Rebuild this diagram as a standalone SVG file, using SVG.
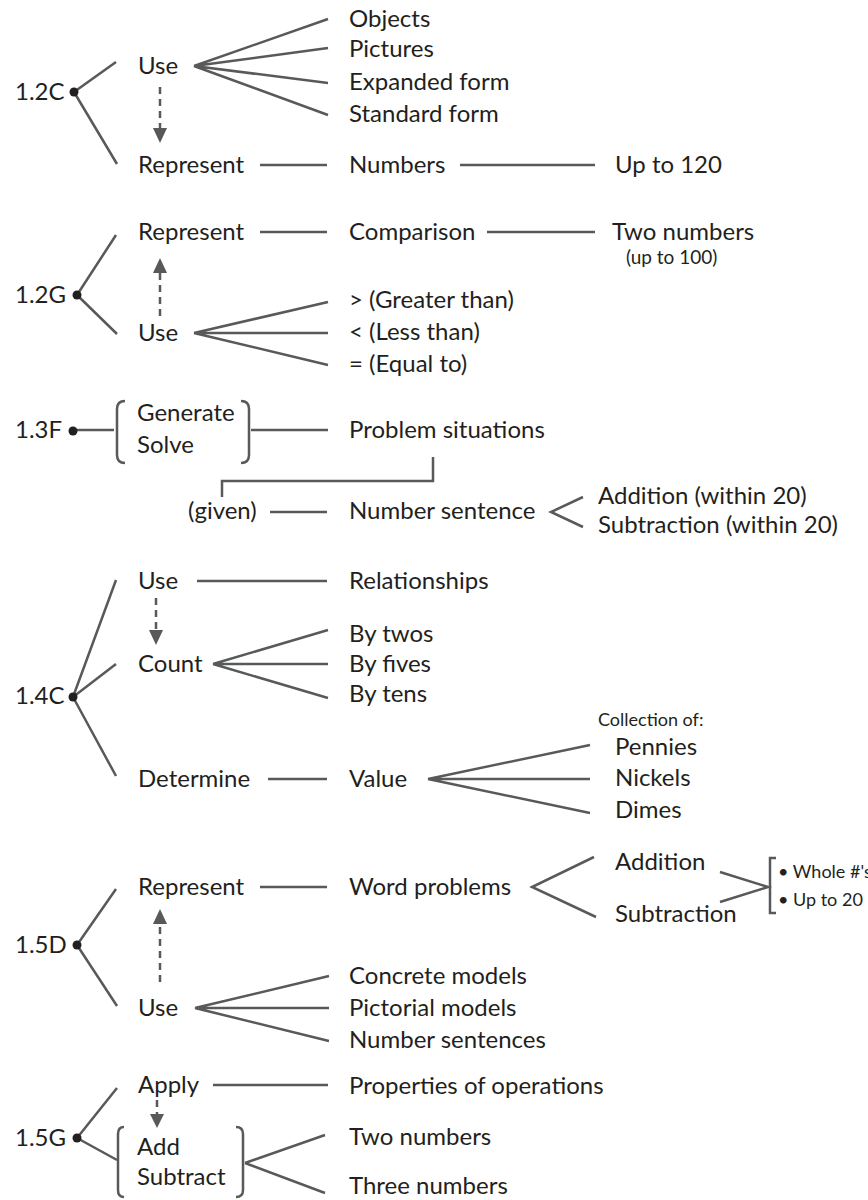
<svg xmlns="http://www.w3.org/2000/svg" width="868" height="1200" viewBox="0 0 868 1200">
<style>
text{font-family:Lato,"Open Sans","Liberation Sans",sans-serif;font-size:24px;fill:#231f20}
.s{font-size:19px}
.xs{font-size:18px}
.ln{stroke:#58595b;stroke-width:2.5;fill:none;stroke-linecap:butt}
.da{stroke:#58595b;stroke-width:2.5;fill:none;stroke-dasharray:7,5}
.dot{fill:#231f20}
.ah{fill:#58595b}
</style>
<g id="connectors">
<!-- 1.2C -->
<path class="ln" d="M74,92 L116,62 M74,92 L117,164"/>
<path class="ln" d="M194,66 L328,19 M194,66 L328,48 M194,66 L328,83 M194,66 L328,115"/>
<path class="ln" d="M260,165 L327,165 M460,165 L595,165"/>
<path class="da" d="M160,87 L160,128"/>
<path class="ah" d="M153,128 L167,128 L160,143 Z"/>
<!-- 1.2G -->
<path class="ln" d="M77,295 L116,235 M77,295 L117,334"/>
<path class="ln" d="M260,232 L327,232 M487,232 L595,232"/>
<path class="da" d="M160,316 L160,273"/>
<path class="ah" d="M153,273 L167,273 L160,258 Z"/>
<path class="ln" d="M194,333 L328,302 M194,333 L328,333 M194,333 L328,365"/>
<!-- 1.3F -->
<path class="ln" d="M74,430 L114,430 M251,430 L328,430"/>
<path class="ln" d="M125,401 Q117,401 117,409 L117,455 Q117,463 125,463"/>
<path class="ln" d="M241,401 Q249,401 249,409 L249,455 Q249,463 241,463"/>
<path class="ln" d="M433,457 L433,481 L222,481 L222,497"/>
<path class="ln" d="M270,512 L327,512"/>
<path class="ln" d="M583,497 L551,512 L583,527"/>
<!-- 1.4C -->
<path class="ln" d="M73,697 L116,580 M73,697 L116,664 M73,697 L116,776"/>
<path class="ln" d="M197,581 L327,581"/>
<path class="da" d="M156,598 L156,630"/>
<path class="ah" d="M149,630 L163,630 L156,645 Z"/>
<path class="ln" d="M213,664 L328,630 M213,664 L328,664 M213,664 L328,698"/>
<path class="ln" d="M268,779 L327,779"/>
<path class="ln" d="M428,779 L590,745 M428,779 L590,779 M428,779 L590,813"/>
<!-- 1.5D -->
<path class="ln" d="M77,945 L116,889 M77,945 L117,1006"/>
<path class="ln" d="M260,887 L327,887"/>
<path class="ln" d="M594,857 L532,887 L596,917"/>
<path class="ln" d="M720,872 L768,887 L720,902"/>
<path class="ln" d="M776,858 L770,858 L770,913 L776,913"/>
<path class="da" d="M160,982 L160,924"/>
<path class="ah" d="M153,924 L167,924 L160,909 Z"/>
<path class="ln" d="M195,1008 L329,976 M195,1008 L329,1008 M195,1008 L329,1041"/>
<!-- 1.5G -->
<path class="ln" d="M77,1138 L117,1088 M77,1138 L117,1160"/>
<path class="ln" d="M213,1085 L328,1085"/>
<path class="da" d="M157,1100 L157,1114"/>
<path class="ah" d="M150,1114 L164,1114 L157,1128 Z"/>
<path class="ln" d="M124,1127 Q118,1127 118,1134 L118,1190 Q118,1197 124,1197"/>
<path class="ln" d="M236,1127 Q243,1127 243,1134 L243,1190 Q243,1197 236,1197"/>
<path class="ln" d="M245,1163 L325,1135 M245,1163 L325,1193"/>
</g>
<g id="dots">
<circle class="dot" cx="74" cy="92" r="4.5"/>
<circle class="dot" cx="77" cy="295" r="4.5"/>
<circle class="dot" cx="73" cy="431" r="4.5"/>
<circle class="dot" cx="73" cy="697" r="4.5"/>
<circle class="dot" cx="77" cy="945" r="4.5"/>
<circle class="dot" cx="77" cy="1138" r="4.5"/>
</g>
<g id="n12C"><text x="15" y="100">1.2C</text></g>
<g id="n12C-use"><text x="138" y="74">Use</text></g>
<g id="n12C-rep"><text x="138" y="173">Represent</text></g>
<g id="n12C-obj"><text x="349" y="27">Objects</text></g>
<g id="n12C-pic"><text x="349" y="57">Pictures</text></g>
<g id="n12C-exp"><text x="349" y="90">Expanded form</text></g>
<g id="n12C-std"><text x="349" y="122">Standard form</text></g>
<g id="n12C-num"><text x="349" y="173">Numbers</text></g>
<g id="n12C-up"><text x="615" y="173">Up to 120</text></g>
<g id="n12G"><text x="15" y="303">1.2G</text></g>
<g id="n12G-rep"><text x="138" y="240">Represent</text></g>
<g id="n12G-cmp"><text x="349" y="240">Comparison</text></g>
<g id="n12G-two"><text x="612" y="240">Two numbers</text><text class="s" x="626" y="264">(up to 100)</text></g>
<g id="n12G-use"><text x="138" y="341">Use</text></g>
<g id="n12G-gt"><text x="349" y="308">&gt; (Greater than)</text></g>
<g id="n12G-lt"><text x="349" y="340">&lt; (Less than)</text></g>
<g id="n12G-eq"><text x="349" y="372">= (Equal to)</text></g>
<g id="n13F"><text x="15" y="438">1.3F</text></g>
<g id="n13F-gs"><text x="137" y="421">Generate</text><text x="137" y="453">Solve</text></g>
<g id="n13F-ps"><text x="349" y="438">Problem situations</text></g>
<g id="n13F-given"><text x="188" y="519">(given)</text></g>
<g id="n13F-ns"><text x="349" y="519">Number sentence</text></g>
<g id="n13F-add"><text x="598" y="504">Addition (within 20)</text></g>
<g id="n13F-sub"><text x="598" y="533">Subtraction (within 20)</text></g>
<g id="n14C"><text x="15" y="704">1.4C</text></g>
<g id="n14C-use"><text x="138" y="589">Use</text></g>
<g id="n14C-rel"><text x="349" y="589">Relationships</text></g>
<g id="n14C-count"><text x="138" y="672">Count</text></g>
<g id="n14C-two"><text x="349" y="642">By twos</text></g>
<g id="n14C-five"><text x="349" y="672">By fives</text></g>
<g id="n14C-ten"><text x="349" y="702">By tens</text></g>
<g id="n14C-det"><text x="138" y="787">Determine</text></g>
<g id="n14C-val"><text x="349" y="787">Value</text></g>
<g id="n14C-col"><text class="xs" x="598" y="726">Collection of:</text></g>
<g id="n14C-pen"><text x="615" y="755">Pennies</text></g>
<g id="n14C-nic"><text x="615" y="786">Nickels</text></g>
<g id="n14C-dim"><text x="615" y="818">Dimes</text></g>
<g id="n15D"><text x="15" y="953">1.5D</text></g>
<g id="n15D-rep"><text x="138" y="895">Represent</text></g>
<g id="n15D-wp"><text x="349" y="895">Word problems</text></g>
<g id="n15D-add"><text x="615" y="870">Addition</text></g>
<g id="n15D-sub"><text x="615" y="922">Subtraction</text></g>
<g id="n15D-br"><text class="xs" x="778" y="878">• Whole #'s</text><text class="xs" x="778" y="906">• Up to 20</text></g>
<g id="n15D-use"><text x="138" y="1016">Use</text></g>
<g id="n15D-con"><text x="349" y="984">Concrete models</text></g>
<g id="n15D-pic"><text x="349" y="1016">Pictorial models</text></g>
<g id="n15D-ns"><text x="349" y="1048">Number sentences</text></g>
<g id="n15G"><text x="15" y="1146">1.5G</text></g>
<g id="n15G-apply"><text x="138" y="1093">Apply</text></g>
<g id="n15G-prop"><text x="349" y="1094">Properties of operations</text></g>
<g id="n15G-as"><text x="137" y="1155">Add</text><text x="137" y="1185">Subtract</text></g>
<g id="n15G-two"><text x="349" y="1145">Two numbers</text></g>
<g id="n15G-three"><text x="349" y="1194">Three numbers</text></g>
</svg>
